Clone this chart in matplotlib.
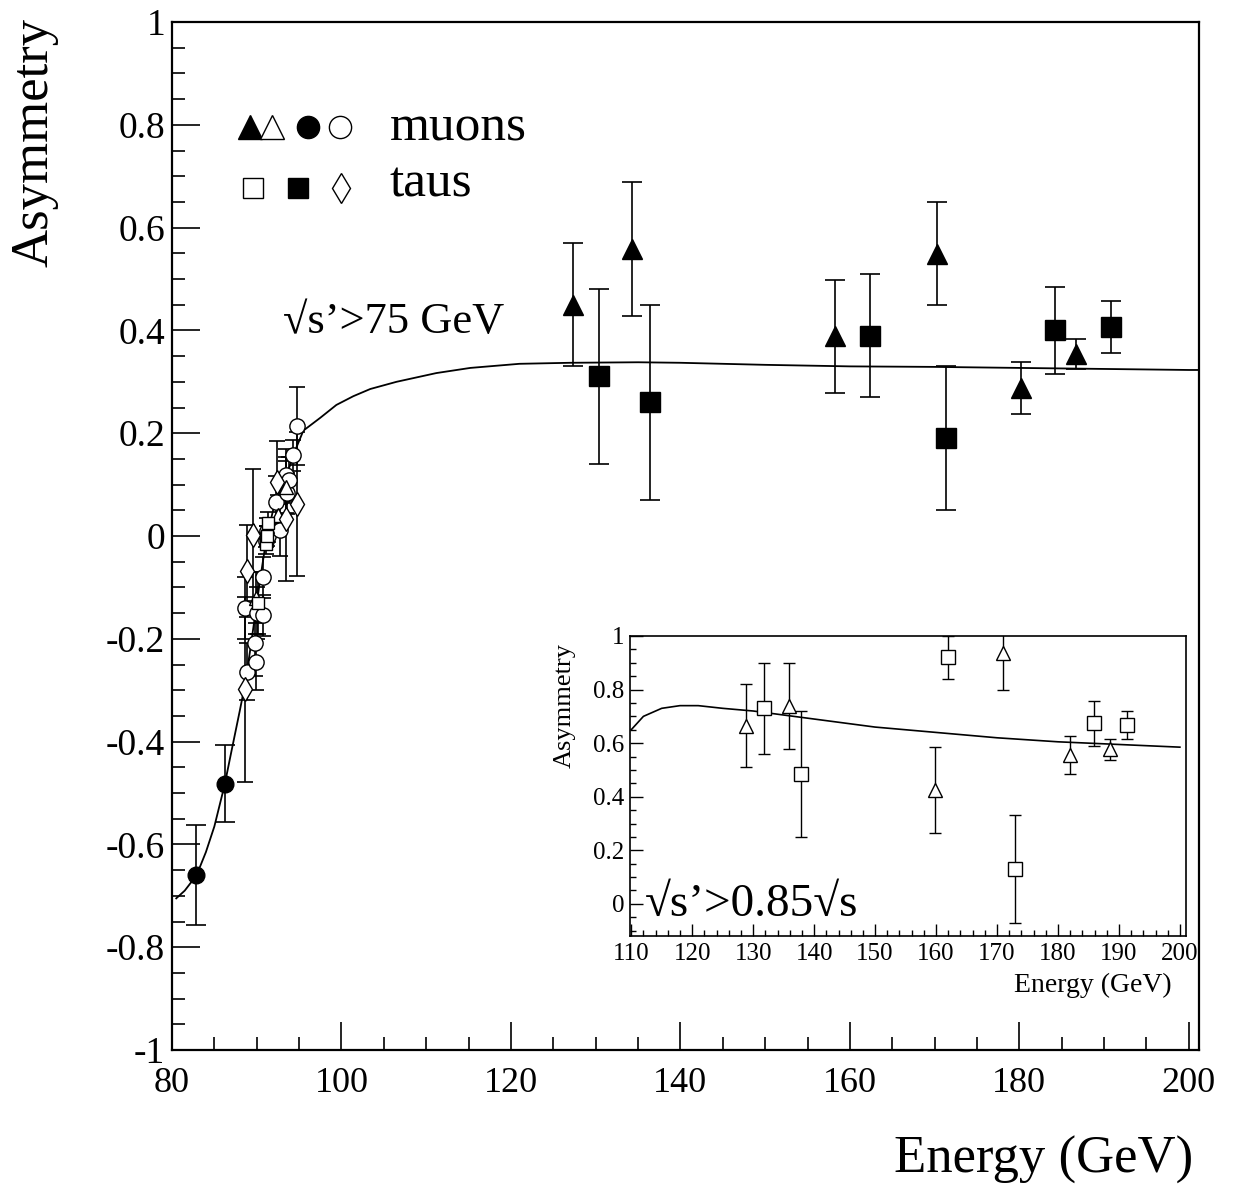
import numpy as np
import matplotlib
matplotlib.use("Agg")
import matplotlib.pyplot as plt
from matplotlib.ticker import MultipleLocator, FuncFormatter

plt.rcParams["font.family"] = ["Liberation Serif", "DejaVu Serif"]
plt.rcParams["axes.unicode_minus"] = False

# --- main plot: sqrt(s') > 75 GeV ---
# high energy muons (filled triangles)
hi_mu_x = [127.3, 134.3, 158.3, 170.3, 180.2, 186.7]
hi_mu_y = [0.450, 0.558, 0.389, 0.549, 0.288, 0.354]
hi_mu_err = [0.120, 0.130, 0.110, 0.100, 0.050, 0.030]

# high energy taus (filled squares)
hi_tau_x = [130.4, 136.4, 162.4, 171.3, 184.2, 190.8]
hi_tau_y = [0.311, 0.260, 0.390, 0.190, 0.400, 0.407]
hi_tau_err = [0.170, 0.190, 0.120, 0.140, 0.085, 0.050]

# radiative return points (filled circles)
low_mu_x = [82.85, 86.2]
low_mu_y = [-0.660, -0.482]
low_mu_err = [0.097, 0.075]

# Z pole scan: muons, open circles
zc_x = [88.6, 88.85, 89.8, 89.9, 90.0, 90.7, 90.75, 91.1, 91.2, 91.3,
        92.3, 92.8, 93.5, 93.6, 93.8, 94.3, 94.7]
zc_y = [-0.140, -0.264, -0.208, -0.245, -0.150, -0.154, -0.080, -0.010, 0.010, 0.000,
        0.066, 0.012, 0.119, 0.083, 0.109, 0.157, 0.214]
zc_err = [0.060, 0.055, 0.065, 0.055, 0.050, 0.040, 0.040, 0.012, 0.010, 0.012,
          0.050, 0.050, 0.050, 0.040, 0.045, 0.030, 0.075]

# Z pole scan: muons, open triangles
zt_x = [89.9, 91.25, 92.5, 93.4]
zt_y = [-0.120, 0.020, 0.040, 0.095]
zt_err = [0.050, 0.015, 0.040, 0.050]

# Z pole scan: taus, open squares
zs_x = [90.2, 91.15, 91.2, 91.3]
zs_y = [-0.130, -0.015, 0.000, 0.025]
zs_err = [0.060, 0.020, 0.020, 0.022]

# Z pole scan: taus, diamonds
zd_x = [88.65, 88.85, 89.55, 92.4, 93.5, 94.7]
zd_y = [-0.298, -0.068, 0.002, 0.105, 0.033, 0.062]
zd_err = [0.180, 0.090, 0.128, 0.080, 0.120, 0.140]

# prediction, sqrt(s') > 75 GeV
curve_x = [80.5, 81.5, 82.9, 84.0, 85.0, 86.2, 87.0, 87.5, 88.0, 88.6, 89.2, 89.8,
           90.4, 91.0, 91.5, 92.0, 93.0, 94.0, 94.5, 95.5, 97.5, 99.4, 101.4, 103.4,
           106.5, 111.2, 115.2, 121.0, 127.0, 135.0, 140.0, 150.0, 160.0, 170.0,
           180.0, 190.0, 200.0, 201.0]
curve_y = [-0.705, -0.690, -0.660, -0.615, -0.565, -0.485, -0.420, -0.380, -0.340,
           -0.290, -0.225, -0.155, -0.085, -0.020, 0.020, 0.055, 0.100, 0.140, 0.165,
           0.205, 0.230, 0.255, 0.272, 0.286, 0.300, 0.317, 0.327, 0.335, 0.337,
           0.338, 0.337, 0.333, 0.330, 0.329, 0.327, 0.325, 0.323, 0.323]

# --- inset: sqrt(s') > 0.85 sqrt(s) ---
in_mu_x = [128.9, 135.8, 159.9, 171.0, 182.0, 188.5]
in_mu_y = [0.665, 0.740, 0.425, 0.935, 0.556, 0.577]
in_mu_err = [0.155, 0.160, 0.160, 0.135, 0.070, 0.040]

in_tau_x = [131.8, 137.9, 162.0, 172.9, 185.9, 191.3]
in_tau_y = [0.730, 0.485, 0.920, 0.130, 0.674, 0.668]
in_tau_err = [0.170, 0.235, 0.080, 0.200, 0.083, 0.052]

in_curve_x = [110, 112, 115, 118, 121, 125, 130, 135, 140, 150, 160, 170, 180, 190, 200]
in_curve_y = [0.650, 0.700, 0.730, 0.740, 0.740, 0.730, 0.720, 0.705, 0.690, 0.660,
              0.640, 0.620, 0.605, 0.595, 0.585]


def fmt(v, _pos):
    return f"{round(v, 3) + 0:g}"


fig = plt.figure(figsize=(12.33, 11.89), dpi=100)
ax = fig.add_axes([172 / 1233, 1 - 1050 / 1189, 1027 / 1233, 1028 / 1189])

ax.plot(curve_x, curve_y, color="black", lw=1.3, zorder=1)

eb = dict(fmt="none", ecolor="black", elinewidth=1.2, capthick=1.2, zorder=2)
ax.errorbar(hi_mu_x, hi_mu_y, yerr=hi_mu_err, capsize=7.5, **eb)
ax.errorbar(hi_tau_x, hi_tau_y, yerr=hi_tau_err, capsize=7.5, **eb)
ax.errorbar(low_mu_x, low_mu_y, yerr=low_mu_err, capsize=7, **eb)
for xs, ys, es in [(zc_x, zc_y, zc_err), (zt_x, zt_y, zt_err),
                   (zs_x, zs_y, zs_err), (zd_x, zd_y, zd_err)]:
    ax.errorbar(xs, ys, yerr=es, capsize=5.5, **eb)

ax.plot(hi_mu_x, hi_mu_y, "^", color="black", ms=15, ls="none", zorder=3)
ax.plot(hi_tau_x, hi_tau_y, "s", color="black", ms=14, ls="none", zorder=3)
ax.plot(low_mu_x, low_mu_y, "o", color="black", ms=12, ls="none", zorder=3)
op = dict(mfc="white", mec="black", mew=1.0, ls="none", zorder=3)
ax.plot(zc_x, zc_y, "o", ms=11, **op)
ax.plot(zt_x, zt_y, "^", ms=10, **op)
ax.plot(zs_x, zs_y, "s", ms=9, **op)
ax.plot(zd_x, zd_y, "d", ms=12, **op)

ax.set_xlim(80, 201.2)
ax.set_ylim(-1, 1)
ax.xaxis.set_major_locator(MultipleLocator(20))
ax.xaxis.set_minor_locator(MultipleLocator(5))
ax.yaxis.set_major_locator(MultipleLocator(0.2))
ax.yaxis.set_minor_locator(MultipleLocator(0.05))
ax.xaxis.set_major_formatter(FuncFormatter(fmt))
ax.yaxis.set_major_formatter(FuncFormatter(fmt))
ax.tick_params(which="both", direction="in", top=False, right=False, width=1.2,
               labelsize=26, color="black")
ax.tick_params(axis="y", labelsize=27)
ax.tick_params(which="major", length=20)
ax.tick_params(which="minor", length=9.5)
ax.tick_params(axis="x", pad=12)
ax.tick_params(axis="y", pad=5)
for s in ax.spines.values():
    s.set_linewidth(1.6)

# legend drawn by hand, as in the original
leg = dict(color="black", ls="none", transform=ax.transAxes, clip_on=False)
ax.plot(0.076, 0.898, "^", ms=17, **leg)
ax.plot(0.097, 0.898, "^", ms=17, mfc="white", mew=1.0, **leg)
ax.plot(0.132, 0.898, "o", ms=16, **leg)
ax.plot(0.164, 0.898, "o", ms=16, mfc="white", mew=1.0, **leg)
ax.plot(0.079, 0.8385, "s", ms=14, mfc="white", mew=1.0, **leg)
ax.plot(0.123, 0.8385, "s", ms=14, **leg)
ax.plot(0.165, 0.8385, "d", ms=15, mfc="white", mew=1.0, **leg)
ax.text(0.212, 0.897, "muons", transform=ax.transAxes, fontsize=37, va="center")
ax.text(0.212, 0.842, "taus", transform=ax.transAxes, fontsize=37, va="center")
ax.text(0.108, 0.708, "\u221as\u2019>75 GeV", transform=ax.transAxes, fontsize=32,
        va="center")

fig.text(35 / 1233, 1 - 18 / 1189, "Asymmetry", rotation=90, ha="center", va="top",
         fontsize=38)
fig.text(1193 / 1233, 1 - 1160 / 1189, "Energy (GeV)", ha="right", va="center",
         fontsize=38)

# inset
ins = fig.add_axes([630 / 1233, 1 - 936 / 1189, 556 / 1233, 300 / 1189])
ins.plot(in_curve_x, in_curve_y, color="black", lw=1.2, zorder=1)
ins.errorbar(in_mu_x, in_mu_y, yerr=in_mu_err, capsize=4, fmt="none", ecolor="black",
             elinewidth=1.0, capthick=1.0, zorder=2)
ins.errorbar(in_tau_x, in_tau_y, yerr=in_tau_err, capsize=4, fmt="none", ecolor="black",
             elinewidth=1.0, capthick=1.0, zorder=2)
ins.plot(in_mu_x, in_mu_y, "^", ms=10, **op)
ins.plot(in_tau_x, in_tau_y, "s", ms=10, **op)
ins.set_xlim(109.8, 201)
ins.set_ylim(-0.12, 1.0)
ins.xaxis.set_major_locator(MultipleLocator(10))
ins.xaxis.set_minor_locator(MultipleLocator(2))
ins.yaxis.set_major_locator(MultipleLocator(0.2))
ins.yaxis.set_minor_locator(MultipleLocator(0.05))
ins.xaxis.set_major_formatter(FuncFormatter(fmt))
ins.yaxis.set_major_formatter(FuncFormatter(fmt))
ins.tick_params(which="both", direction="in", top=False, right=False, width=1.0,
                labelsize=18, color="black")
ins.tick_params(which="major", length=9)
ins.tick_params(which="minor", length=4.5)
ins.tick_params(axis="x", pad=5)
ins.tick_params(axis="y", pad=4)
for s in ins.spines.values():
    s.set_linewidth(1.2)
ins.text(0.027, 0.103, "\u221as\u2019>0.85\u221as", transform=ins.transAxes,
         fontsize=34, va="center")

fig.text(565 / 1233, 1 - 643 / 1189, "Asymmetry", rotation=90, ha="center", va="top",
         fontsize=19)
fig.text(1172 / 1233, 1 - 985 / 1189, "Energy (GeV)", ha="right", va="center",
         fontsize=20)

fig.savefig("out.png", dpi=100, facecolor="white")
